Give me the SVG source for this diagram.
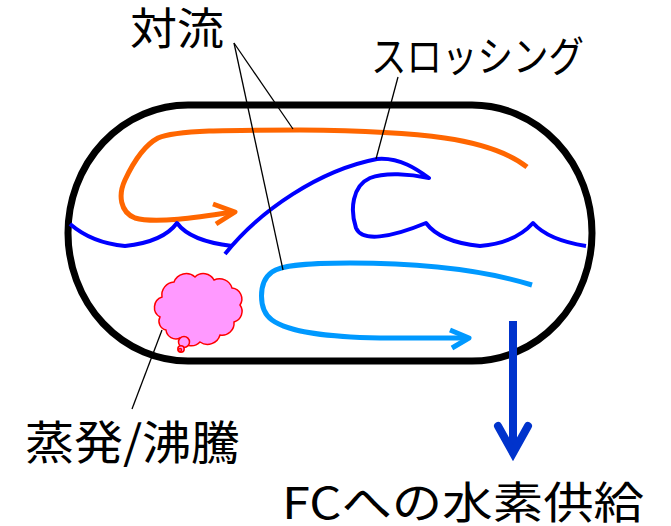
<svg xmlns="http://www.w3.org/2000/svg" width="671" height="526" viewBox="0 0 671 526">
  <style>
    .label { font-family: "Noto Sans CJK JP", "Noto Sans", sans-serif; fill: #000; }
    .leader { fill: none; stroke: #000; stroke-width: 1.3; }
    .flow { fill: none; stroke-linecap: butt; stroke-linejoin: round; }
  </style>
  <rect width="671" height="526" fill="#fff"/>

  <!-- tank -->
  <g id="tank">
    <rect x="68" y="105" width="524" height="256" rx="120" ry="128" fill="none" stroke="#000" stroke-width="7"/>
  </g>

  <!-- upper convection loop -->
  <g id="convection-upper">
    <path class="flow" stroke="#FF6600" stroke-width="5" d="M527,167 C490,138 420,131 300,130 C230,130 175,130 158,138 C143,146 132,165 125,180 C118,195 120,212 135,218 C155,224 200,217 233,212"/>
    <path class="flow" stroke="#FF6600" stroke-width="5" stroke-linecap="round" d="M213,204 L235,212 L216,224"/>
  </g>

  <!-- liquid surface / sloshing wave -->
  <g id="wave">
    <path class="flow" stroke="#0000FF" stroke-width="4" d="M70,224 Q92,243 125,246 Q163,242 177,223 Q190,241 232,246"/>
    <path class="flow" stroke="#0000FF" stroke-width="4" d="M225,254 C260,210 320,170 377,159 C400,157 418,170 429,178 C410,174 385,172 370,178 C352,186 350,210 356,228 C362,242 390,238 426,223 Q440,242 480,246 Q515,243 533,223 Q548,240 586,246"/>
  </g>

  <!-- lower convection loop -->
  <g id="convection-lower">
    <path class="flow" stroke="#0099FF" stroke-width="5" d="M532,285 C490,272 430,263 350,263 C300,263 280,266 272,272 C258,282 258,310 272,320 C290,333 330,337 380,338 C420,338 450,338 468,338"/>
    <path class="flow" stroke="#0099FF" stroke-width="5" stroke-linecap="round" d="M450,330 L469,338 L452,348"/>
  </g>

  <!-- boil-off bubble cloud -->
  <g id="boiloff" fill="#FF99FF" stroke="#FF0000" stroke-width="1.5">
    <path d="M160,317 A11,11 0 0 1 162,297 A13,13 0 0 1 174,282 A13,13 0 0 1 195,277 A12,12 0 0 1 214,280 A13,13 0 0 1 232,288 A11,11 0 0 1 240,305 A11,11 0 0 1 234,322 A12,12 0 0 1 220,335 A13,13 0 0 1 200,342 A12,12 0 0 1 180,338 A10,10 0 0 1 166,330 A9,9 0 0 1 160,317 Z"/>
    <circle cx="184" cy="342" r="5.5"/>
    <circle cx="181" cy="349" r="3.2"/>
    <circle cx="180" cy="350" r="1.5"/>
  </g>

  <!-- fuel supply arrow -->
  <g id="supply">
    <line x1="513" y1="321" x2="513" y2="450" stroke="#0033CC" stroke-width="8"/>
    <path d="M498,426 L513,453 L528,426" fill="none" stroke="#0033CC" stroke-width="8" stroke-linecap="round" stroke-linejoin="miter"/>
  </g>

  <!-- leader lines -->
  <g id="leaders">
    <path class="leader" d="M234,43 L293,129"/>
    <path class="leader" d="M234,43 L283,270"/>
    <path class="leader" d="M398,77 L376,159"/>
    <path class="leader" d="M162,330 L132,409"/>
  </g>

  <!-- labels -->
  <g id="label-convection">
    <text class="label" x="130" y="45" font-size="44" textLength="94" lengthAdjust="spacingAndGlyphs">対流</text>
  </g>
  <g id="label-sloshing">
    <text class="label" x="371" y="72" font-size="42" textLength="213" lengthAdjust="spacingAndGlyphs">スロッシング</text>
  </g>
  <g id="label-boiloff">
    <text class="label" x="25" y="459" font-size="46" textLength="215" lengthAdjust="spacingAndGlyphs">蒸発/沸騰</text>
  </g>
  <g id="label-supply">
    <text class="label" x="282" y="519" font-size="44" textLength="362" lengthAdjust="spacingAndGlyphs">FCへの水素供給</text>
  </g>
</svg>
